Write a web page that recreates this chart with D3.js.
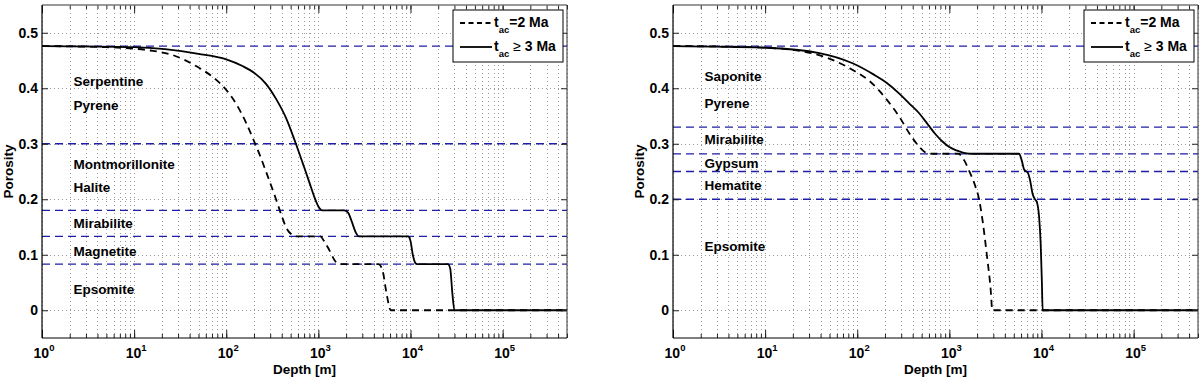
<!DOCTYPE html>
<html>
<head>
<meta charset="utf-8">
<script src="https://cdn.jsdelivr.net/npm/d3@7"></script>
<style>
  body { margin: 0; background: #fff; }
  text { font-family: "Liberation Sans", Arial, Helvetica, sans-serif; font-weight: bold; fill: #000; }
</style>
</head>
<body>
<div id="chart"></div>
<script>
// tick values / labels
const depthTicks = [1, 10, 100, 1e3, 1e4, 1e5];
const depthExponents = ["0", "1", "2", "3", "4", "5"];
const porosityTicks = [0, 0.1, 0.2, 0.3, 0.4, 0.5];
const porosityLabels = ["0", "0.1", "0.2", "0.3", "0.4", "0.5"];
const legendNames = ["=2 Ma", "\u2265 3 Ma"];

// [depth m, porosity]
const leftSolid = [[1, .476], [10, .474], [50, .462], [100, .452], [150, .44], [200, .428],
  [270, .408], [350, .38], [450, .345], [570, .30], [700, .258], [800, .23], [900, .205], [1000, .187],
  [1100, .18], [1900, .18], [2100, .176], [2300, .16], [2550, .14], [2750, .133], [9400, .133],
  [10000, .125], [10600, .1], [11300, .085], [11800, .083], [25500, .083], [27000, .075], [28500, .03],
  [30000, 0], [5e5, 0]];
const leftDashed = [[1, .476], [5, .474], [15, .468], [26, .46], [47, .44], [78, .415], [100, .397],
  [130, .37], [164, .338], [200, .305], [227, .283], [270, .25], [347, .2], [400, .17], [450, .148],
  [520, .136], [580, .133], [1050, .133], [1150, .125], [1300, .11], [1500, .09], [1660, .083],
  [4500, .083], [5000, .07], [5500, .03], [6100, 0], [5e5, 0]];
const rightSolid = [[1, .476], [10, .473], [40, .463], [89, .445], [150, .425], [208, .41], [288, .39],
  [370, .372], [470, .355], [565, .338], [700, .318], [841, .304], [1000, .294], [1194, .288],
  [1400, .284], [1650, .282], [5700, .282], [6100, .27], [6500, .253], [7100, .248], [7500, .235],
  [8000, .21], [8500, .2], [8900, .195], [9400, .17], [9800, .12], [10100, .05], [10300, 0], [5e5, 0]];
const rightDashed = [[1, .476], [7, .474], [20, .469], [47, .455], [89, .433], [136, .413], [208, .38],
  [288, .348], [370, .318], [474, .294], [540, .285], [620, .282], [1250, .282], [1450, .27],
  [1650, .25], [1900, .225], [2100, .2], [2300, .16], [2550, .1], [2800, .04], [2930, 0], [5e5, 0]];

// mineral saturation levels (blue dashed) and labels
const leftLevels = [0.476, 0.3, 0.18, 0.133, 0.083];
const rightLevels = [0.476, 0.33, 0.2816, 0.25, 0.2];
const leftMinerals = ["Serpentine", "Pyrene", "Montmorillonite", "Halite", "Mirabilite", "Magnetite", "Epsomite"];
const leftMineralPorosity = [0.412, 0.37, 0.264, 0.221, 0.157, 0.106, 0.038];
const rightMinerals = ["Saponite", "Pyrene", "Mirabilite", "Gypsum", "Hematite", "Epsomite"];
const rightMineralPorosity = [0.421, 0.374, 0.309, 0.265, 0.226, 0.116];
const labelDepth = 2.2;

const width = 1200, height = 378;
const plotTop = 5, plotBottom = 338;

const svg = d3.select("#chart").append("svg")
  .attr("width", width)
  .attr("height", height);

function panel(x0, x1, solid, dashed, levels, minerals, mineralP) {
  const x = d3.scaleLog().domain([1, 5e5]).range([x0, x1]);
  const y = d3.scaleLinear().domain([-0.05, 0.55]).range([plotBottom, plotTop]);
  const g = svg.append("g");

  // grid
  const grid = g.append("g")
    .attr("stroke", "#9a9a9a")
    .attr("stroke-dasharray", "1,3")
    .attr("shape-rendering", "crispEdges");
  grid.selectAll(".gx").data(x.ticks()).join("line")
    .attr("x1", d => Math.round(x(d)) + 0.5).attr("x2", d => Math.round(x(d)) + 0.5)
    .attr("y1", plotTop).attr("y2", plotBottom);
  grid.selectAll(".gy").data(porosityTicks).join("line")
    .attr("x1", x0).attr("x2", x1)
    .attr("y1", d => Math.round(y(d)) + 0.5).attr("y2", d => Math.round(y(d)) + 0.5);

  // mineral levels
  g.append("g").selectAll("line").data(levels).join("line")
    .attr("x1", x0).attr("x2", x1)
    .attr("y1", d => y(d)).attr("y2", d => y(d))
    .attr("stroke", "#1e1ea6")
    .attr("stroke-width", 1.3)
    .attr("stroke-dasharray", "8,5");

  const line = d3.line()
    .x(d => x(d[0]))
    .y(d => y(d[1]))
    .curve(d3.curveMonotoneX);

  g.append("path").datum(dashed)
    .attr("fill", "none").attr("stroke", "#000")
    .attr("stroke-width", 1.8).attr("stroke-dasharray", "7,5")
    .attr("d", line);
  g.append("path").datum(solid)
    .attr("fill", "none").attr("stroke", "#000")
    .attr("stroke-width", 1.8)
    .attr("d", line);

  // mineral names
  g.append("g").selectAll("text").data(minerals).join("text")
    .attr("x", x(labelDepth))
    .attr("y", (d, i) => y(mineralP[i]))
    .attr("dy", "0.36em")
    .attr("font-size", 13.5)
    .text(d => d);

  // ticks (inward)
  const axes = [
    [d3.axisBottom(x).tickValues(x.ticks()).tickSize(-4), `translate(0,${plotBottom})`],
    [d3.axisBottom(x).tickValues(depthTicks).tickSize(-8), `translate(0,${plotBottom})`],
    [d3.axisTop(x).tickValues(x.ticks()).tickSize(-4), `translate(0,${plotTop})`],
    [d3.axisTop(x).tickValues(depthTicks).tickSize(-8), `translate(0,${plotTop})`],
    [d3.axisLeft(y).tickValues(porosityTicks).tickSize(-6), `translate(${x0},0)`],
    [d3.axisRight(y).tickValues(porosityTicks).tickSize(-6), `translate(${x1},0)`]
  ];
  for (const [ax, tr] of axes) {
    const a = g.append("g").attr("transform", tr).call(ax.tickFormat(""));
    a.select(".domain").remove();
    a.selectAll("line").attr("stroke", "#222");
  }

  // frame
  g.append("line").attr("x1", x0).attr("x2", x1).attr("y1", plotTop).attr("y2", plotTop)
    .attr("stroke", "#777").attr("stroke-width", 1.6);
  g.append("line").attr("x1", x1).attr("x2", x1).attr("y1", plotTop).attr("y2", plotBottom)
    .attr("stroke", "#333");
  g.append("line").attr("x1", x0).attr("x2", x0).attr("y1", plotTop).attr("y2", plotBottom)
    .attr("stroke", "#000").attr("stroke-width", 1.2);
  g.append("line").attr("x1", x0).attr("x2", x1).attr("y1", plotBottom).attr("y2", plotBottom)
    .attr("stroke", "#000").attr("stroke-width", 1.2);

  // tick labels
  const xl = g.append("g").selectAll("text").data(depthTicks).join("text")
    .attr("x", d => x(d) + 2)
    .attr("y", 358)
    .attr("text-anchor", "middle")
    .attr("font-size", 14);
  xl.append("tspan").text("10");
  xl.append("tspan").attr("dy", -7).attr("font-size", 9.5).text((d, i) => depthExponents[i]);

  g.append("g").selectAll("text").data(porosityTicks).join("text")
    .attr("x", x0 - 4)
    .attr("y", d => y(d))
    .attr("dy", "0.36em")
    .attr("text-anchor", "end")
    .attr("font-size", 14)
    .text((d, i) => porosityLabels[i]);

  g.append("text")
    .attr("x", (x0 + x1) / 2)
    .attr("y", 374)
    .attr("text-anchor", "middle")
    .attr("font-size", 13.5)
    .text("Depth [m]");

  g.append("text")
    .attr("transform", `translate(${x0 - 29},${(plotTop + plotBottom) / 2}) rotate(-90)`)
    .attr("text-anchor", "middle")
    .attr("font-size", 13.5)
    .text("Porosity");

  // legend
  const lx = x1 - 114, ly = 10;
  const leg = g.append("g");
  leg.append("rect")
    .attr("x", lx).attr("y", ly).attr("width", 110).attr("height", 52)
    .attr("fill", "#fff").attr("stroke", "#000").attr("stroke-width", 1);
  const rows = [{ y: 23, dash: "5,3.5" }, { y: 47, dash: null }];
  rows.forEach((r, i) => {
    leg.append("line")
      .attr("x1", lx + 7).attr("x2", lx + 39)
      .attr("y1", r.y).attr("y2", r.y)
      .attr("stroke", "#000").attr("stroke-width", 1.8)
      .attr("stroke-dasharray", r.dash);
    const t = leg.append("text")
      .attr("x", lx + 41)
      .attr("y", r.y + 4)
      .attr("font-size", 14);
    t.append("tspan").text("t");
    t.append("tspan").attr("dy", 6).attr("font-size", 9.5).text("ac");
    t.append("tspan").attr("dy", -6).attr("font-size", 14)
      .attr("font-weight", i === 1 ? "normal" : "bold")
      .text(i === 1 ? "\u00a0\u2265" : legendNames[0]);
    if (i === 1) t.append("tspan").text(" 3 Ma");
  });
}

panel(42, 567, leftSolid, leftDashed, leftLevels, leftMinerals, leftMineralPorosity);
panel(673, 1198, rightSolid, rightDashed, rightLevels, rightMinerals, rightMineralPorosity);
</script>
</body>
</html>
